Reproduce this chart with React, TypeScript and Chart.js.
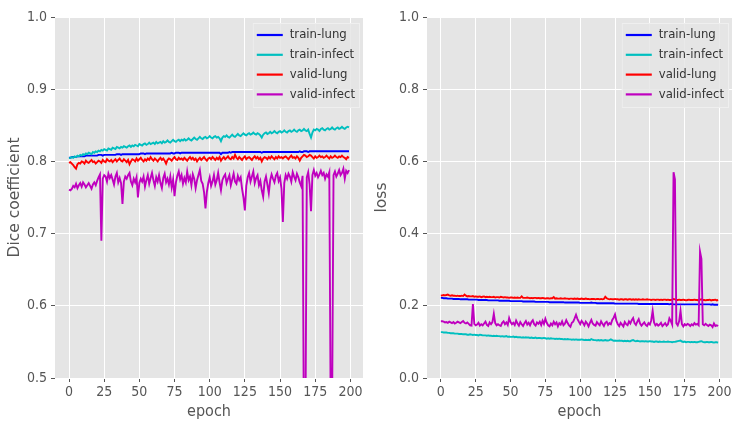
import React, { useEffect, useRef } from "react";
import { Chart, registerables } from "chart.js";

Chart.register(...registerables);

const epochs: number[] = Array.from({ length: 200 }, (_, i) => i);
const xTicks = [0, 25, 50, 75, 100, 125, 150, 175, 200];
const diceTicks = [0.5, 0.6, 0.7, 0.8, 0.9, 1.0];
const lossTicks = [0.0, 0.2, 0.4, 0.6, 0.8, 1.0];
const seriesNames = ["train-lung", "train-infect", "valid-lung", "valid-infect"];
const seriesColors = ["#0000FF", "#00BFBF", "#FF0000", "#BF00BF"];

const trainLungDice = [
  0.805,0.805,0.806,0.806,0.806,0.806,0.807,0.807,0.807,0.807,0.807,0.807,0.808,0.808,0.808,0.808,0.808,0.808,0.808,0.808,
  0.808,0.809,0.809,0.809,0.808,0.809,0.809,0.809,0.809,0.809,0.809,0.809,0.809,0.809,0.810,0.810,0.810,0.809,0.810,0.810,
  0.810,0.810,0.810,0.810,0.810,0.810,0.810,0.810,0.810,0.810,0.810,0.811,0.811,0.811,0.810,0.811,0.811,0.811,0.811,0.811,
  0.811,0.811,0.811,0.811,0.811,0.811,0.811,0.811,0.811,0.811,0.811,0.811,0.811,0.812,0.811,0.811,0.812,0.812,0.812,0.811,
  0.812,0.812,0.812,0.812,0.812,0.812,0.812,0.812,0.812,0.812,0.812,0.812,0.812,0.812,0.812,0.812,0.812,0.812,0.812,0.812,
  0.812,0.812,0.812,0.812,0.812,0.812,0.812,0.812,0.810,0.812,0.812,0.812,0.812,0.812,0.813,0.812,0.813,0.813,0.813,0.813,
  0.813,0.813,0.813,0.813,0.813,0.813,0.813,0.813,0.813,0.813,0.813,0.813,0.813,0.813,0.813,0.813,0.813,0.812,0.813,0.813,
  0.813,0.813,0.813,0.813,0.813,0.813,0.813,0.813,0.813,0.813,0.813,0.813,0.813,0.813,0.813,0.813,0.813,0.813,0.813,0.813,
  0.813,0.813,0.813,0.813,0.814,0.813,0.813,0.814,0.814,0.814,0.813,0.814,0.814,0.814,0.814,0.814,0.814,0.814,0.814,0.814,
  0.814,0.814,0.814,0.814,0.814,0.814,0.814,0.814,0.814,0.814,0.814,0.814,0.814,0.814,0.814,0.814,0.814,0.814,0.814,0.814,
];

const trainInfectDice = [
  0.804,0.805,0.806,0.805,0.807,0.806,0.808,0.807,0.809,0.808,0.810,0.809,0.811,0.810,0.812,0.811,0.810,0.813,0.812,0.814,
  0.813,0.815,0.814,0.816,0.815,0.817,0.816,0.815,0.818,0.817,0.816,0.819,0.818,0.817,0.820,0.819,0.818,0.820,0.819,0.821,
  0.820,0.819,0.821,0.822,0.820,0.822,0.821,0.823,0.822,0.821,0.824,0.823,0.822,0.824,0.825,0.823,0.824,0.826,0.824,0.825,
  0.826,0.824,0.827,0.825,0.826,0.827,0.825,0.828,0.826,0.827,0.829,0.827,0.826,0.828,0.830,0.828,0.827,0.829,0.830,0.828,
  0.830,0.829,0.831,0.829,0.830,0.832,0.830,0.829,0.831,0.833,0.831,0.830,0.832,0.834,0.832,0.831,0.833,0.834,0.832,0.833,
  0.835,0.833,0.832,0.834,0.835,0.833,0.834,0.832,0.828,0.833,0.835,0.834,0.836,0.834,0.833,0.835,0.837,0.835,0.834,0.836,
  0.838,0.836,0.835,0.837,0.839,0.837,0.836,0.838,0.839,0.837,0.838,0.840,0.838,0.837,0.839,0.838,0.836,0.833,0.837,0.839,
  0.840,0.838,0.839,0.841,0.839,0.840,0.842,0.840,0.839,0.841,0.842,0.840,0.841,0.843,0.841,0.840,0.842,0.843,0.841,0.842,
  0.844,0.842,0.841,0.843,0.844,0.842,0.843,0.845,0.843,0.842,0.844,0.838,0.833,0.840,0.844,0.843,0.845,0.844,0.842,0.845,
  0.846,0.844,0.843,0.845,0.846,0.844,0.845,0.847,0.845,0.844,0.846,0.847,0.845,0.846,0.848,0.846,0.845,0.847,0.848,0.847,
];

const validLungDice = [
  0.798,0.799,0.797,0.795,0.792,0.790,0.796,0.798,0.797,0.800,0.799,0.797,0.801,0.799,0.798,0.800,0.802,0.799,0.800,0.797,
  0.799,0.801,0.800,0.798,0.802,0.800,0.799,0.803,0.801,0.800,0.802,0.799,0.801,0.803,0.800,0.802,0.804,0.801,0.800,0.803,
  0.801,0.799,0.802,0.796,0.800,0.803,0.802,0.800,0.804,0.801,0.803,0.805,0.802,0.800,0.803,0.801,0.804,0.802,0.806,0.803,
  0.801,0.804,0.802,0.800,0.803,0.805,0.802,0.804,0.801,0.797,0.802,0.804,0.803,0.801,0.804,0.806,0.803,0.802,0.805,0.803,
  0.804,0.802,0.805,0.803,0.801,0.804,0.806,0.803,0.805,0.802,0.804,0.800,0.803,0.805,0.802,0.804,0.806,0.803,0.801,0.804,
  0.805,0.803,0.806,0.804,0.802,0.805,0.803,0.806,0.801,0.804,0.806,0.803,0.805,0.807,0.804,0.803,0.806,0.804,0.809,0.805,
  0.803,0.806,0.804,0.802,0.805,0.807,0.803,0.805,0.806,0.804,0.802,0.805,0.807,0.804,0.806,0.803,0.805,0.800,0.804,0.806,
  0.805,0.803,0.806,0.804,0.807,0.805,0.803,0.806,0.804,0.807,0.805,0.806,0.804,0.806,0.807,0.805,0.803,0.806,0.808,0.805,
  0.806,0.804,0.807,0.805,0.801,0.805,0.807,0.809,0.808,0.806,0.807,0.809,0.808,0.806,0.804,0.807,0.805,0.806,0.808,0.806,
  0.807,0.805,0.806,0.808,0.806,0.804,0.807,0.805,0.806,0.808,0.806,0.805,0.807,0.806,0.808,0.806,0.805,0.803,0.806,0.805,
];

const validInfectDice = [
  0.761,0.760,0.762,0.766,0.764,0.769,0.763,0.767,0.770,0.765,0.771,0.768,0.764,0.767,0.770,0.766,0.762,0.768,0.771,0.767,
  0.773,0.778,0.782,0.690,0.776,0.781,0.779,0.772,0.783,0.777,0.781,0.775,0.768,0.779,0.784,0.771,0.777,0.770,0.741,0.772,
  0.779,0.776,0.781,0.784,0.772,0.767,0.776,0.771,0.778,0.750,0.770,0.776,0.772,0.779,0.765,0.774,0.781,0.769,0.777,0.784,
  0.774,0.766,0.778,0.772,0.781,0.770,0.763,0.777,0.783,0.771,0.776,0.768,0.779,0.764,0.775,0.752,0.771,0.780,0.786,0.775,
  0.781,0.769,0.777,0.771,0.786,0.774,0.779,0.767,0.782,0.776,0.763,0.774,0.781,0.788,0.773,0.769,0.757,0.735,0.758,0.770,
  0.778,0.766,0.772,0.781,0.768,0.774,0.784,0.771,0.760,0.774,0.779,0.782,0.770,0.776,0.781,0.767,0.775,0.783,0.772,0.769,
  0.780,0.774,0.778,0.762,0.750,0.732,0.766,0.778,0.784,0.772,0.779,0.786,0.770,0.777,0.781,0.767,0.773,0.760,0.751,0.772,
  0.779,0.768,0.756,0.774,0.782,0.776,0.771,0.780,0.784,0.773,0.778,0.762,0.716,0.770,0.781,0.776,0.783,0.779,0.772,0.785,
  0.779,0.774,0.783,0.778,0.771,0.766,0.780,0.400,0.420,0.778,0.785,0.768,0.731,0.781,0.788,0.780,0.784,0.778,0.782,0.787,
  0.781,0.784,0.776,0.782,0.779,0.785,0.450,0.460,0.781,0.786,0.779,0.783,0.788,0.781,0.784,0.790,0.776,0.787,0.784,0.788,
];

const trainLungLoss = [
  0.222,0.222,0.221,0.221,0.221,0.220,0.220,0.220,0.220,0.219,0.219,0.219,0.219,0.219,0.218,0.218,0.218,0.218,0.218,0.218,
  0.217,0.217,0.217,0.217,0.217,0.217,0.217,0.216,0.216,0.216,0.216,0.216,0.216,0.216,0.215,0.215,0.215,0.215,0.215,0.215,
  0.215,0.215,0.214,0.214,0.214,0.214,0.214,0.214,0.214,0.214,0.213,0.213,0.213,0.213,0.213,0.213,0.213,0.213,0.213,0.212,
  0.212,0.212,0.212,0.212,0.212,0.212,0.212,0.212,0.211,0.211,0.211,0.211,0.211,0.211,0.211,0.211,0.211,0.211,0.210,0.210,
  0.210,0.210,0.210,0.210,0.210,0.210,0.210,0.210,0.210,0.209,0.209,0.209,0.209,0.209,0.209,0.209,0.209,0.209,0.209,0.209,
  0.208,0.208,0.208,0.208,0.208,0.208,0.208,0.208,0.209,0.208,0.208,0.208,0.207,0.207,0.207,0.207,0.207,0.207,0.207,0.207,
  0.207,0.207,0.207,0.207,0.207,0.206,0.206,0.206,0.206,0.206,0.206,0.206,0.206,0.206,0.206,0.206,0.206,0.206,0.206,0.206,
  0.206,0.206,0.205,0.205,0.205,0.205,0.205,0.205,0.205,0.205,0.205,0.205,0.205,0.205,0.205,0.205,0.205,0.205,0.205,0.205,
  0.205,0.205,0.205,0.205,0.204,0.205,0.205,0.204,0.204,0.204,0.204,0.204,0.204,0.204,0.204,0.204,0.204,0.204,0.204,0.204,
  0.204,0.204,0.204,0.204,0.204,0.204,0.204,0.204,0.204,0.204,0.204,0.204,0.204,0.204,0.203,0.204,0.203,0.203,0.203,0.203,
];

const trainInfectLoss = [
  0.127,0.127,0.126,0.126,0.126,0.125,0.125,0.124,0.124,0.124,0.123,0.123,0.123,0.122,0.122,0.122,0.121,0.121,0.121,0.120,
  0.120,0.121,0.120,0.119,0.120,0.119,0.119,0.118,0.120,0.119,0.118,0.118,0.118,0.117,0.118,0.117,0.117,0.116,0.117,0.116,
  0.117,0.116,0.116,0.115,0.116,0.115,0.115,0.116,0.114,0.115,0.114,0.114,0.115,0.113,0.114,0.113,0.113,0.113,0.112,0.113,
  0.112,0.113,0.112,0.112,0.111,0.112,0.111,0.111,0.112,0.110,0.111,0.111,0.110,0.110,0.111,0.110,0.109,0.110,0.109,0.110,
  0.109,0.109,0.108,0.109,0.108,0.109,0.108,0.108,0.107,0.108,0.107,0.108,0.107,0.107,0.106,0.107,0.106,0.107,0.106,0.106,
  0.106,0.107,0.106,0.105,0.106,0.105,0.106,0.105,0.108,0.106,0.105,0.105,0.104,0.105,0.104,0.105,0.104,0.104,0.105,0.104,
  0.104,0.105,0.107,0.105,0.103,0.104,0.103,0.103,0.104,0.103,0.103,0.102,0.103,0.102,0.103,0.102,0.102,0.104,0.105,0.103,
  0.102,0.103,0.102,0.101,0.102,0.102,0.101,0.102,0.101,0.101,0.102,0.101,0.101,0.100,0.101,0.101,0.100,0.101,0.100,0.100,
  0.101,0.100,0.100,0.101,0.100,0.100,0.099,0.100,0.100,0.101,0.102,0.103,0.104,0.101,0.100,0.101,0.099,0.100,0.100,0.099,
  0.100,0.099,0.100,0.099,0.099,0.100,0.101,0.102,0.100,0.099,0.099,0.100,0.099,0.099,0.100,0.099,0.098,0.099,0.099,0.098,
];

const validLungLoss = [
  0.228,0.229,0.230,0.229,0.230,0.231,0.229,0.228,0.229,0.228,0.228,0.227,0.228,0.227,0.227,0.228,0.227,0.231,0.228,0.226,
  0.227,0.226,0.226,0.227,0.225,0.226,0.225,0.225,0.226,0.224,0.225,0.226,0.224,0.225,0.224,0.225,0.224,0.224,0.225,0.223,
  0.224,0.224,0.223,0.225,0.224,0.223,0.224,0.223,0.223,0.222,0.223,0.223,0.222,0.223,0.222,0.223,0.222,0.222,0.226,0.222,
  0.222,0.222,0.223,0.222,0.221,0.222,0.221,0.222,0.222,0.221,0.222,0.221,0.221,0.222,0.221,0.220,0.221,0.221,0.220,0.221,
  0.221,0.224,0.220,0.221,0.220,0.220,0.221,0.220,0.220,0.221,0.220,0.220,0.219,0.220,0.220,0.219,0.220,0.219,0.220,0.219,
  0.219,0.220,0.219,0.219,0.220,0.219,0.219,0.218,0.219,0.219,0.219,0.218,0.219,0.219,0.218,0.219,0.218,0.219,0.225,0.221,
  0.219,0.218,0.219,0.218,0.218,0.219,0.218,0.218,0.217,0.218,0.218,0.217,0.218,0.218,0.217,0.218,0.218,0.217,0.218,0.217,
  0.218,0.217,0.218,0.217,0.217,0.218,0.217,0.217,0.218,0.217,0.217,0.216,0.217,0.217,0.216,0.217,0.217,0.216,0.217,0.216,
  0.217,0.217,0.216,0.217,0.216,0.216,0.217,0.219,0.218,0.216,0.216,0.217,0.216,0.216,0.217,0.216,0.215,0.216,0.217,0.216,
  0.216,0.216,0.217,0.216,0.216,0.215,0.217,0.218,0.216,0.216,0.215,0.216,0.216,0.217,0.215,0.216,0.216,0.217,0.215,0.216,
];

const validInfectLoss = [
  0.157,0.157,0.156,0.154,0.155,0.153,0.156,0.154,0.152,0.155,0.151,0.153,0.156,0.154,0.152,0.155,0.158,0.153,0.151,0.154,
  0.150,0.146,0.145,0.205,0.150,0.146,0.148,0.153,0.145,0.149,0.146,0.151,0.156,0.147,0.144,0.154,0.149,0.155,0.178,0.152,
  0.146,0.149,0.146,0.144,0.153,0.157,0.149,0.154,0.147,0.166,0.155,0.149,0.153,0.147,0.159,0.151,0.145,0.155,0.149,0.144,
  0.152,0.158,0.148,0.153,0.146,0.155,0.160,0.149,0.145,0.154,0.150,0.156,0.147,0.159,0.150,0.164,0.153,0.146,0.143,0.151,
  0.146,0.156,0.149,0.154,0.143,0.152,0.148,0.157,0.146,0.150,0.160,0.152,0.146,0.142,0.153,0.156,0.165,0.175,0.164,0.156,
  0.149,0.158,0.153,0.146,0.156,0.151,0.143,0.153,0.161,0.151,0.147,0.145,0.155,0.150,0.146,0.157,0.150,0.144,0.153,0.156,
  0.147,0.152,0.149,0.161,0.167,0.176,0.158,0.149,0.144,0.153,0.148,0.143,0.155,0.149,0.146,0.157,0.151,0.160,0.166,0.152,
  0.147,0.156,0.163,0.151,0.145,0.150,0.154,0.147,0.144,0.152,0.148,0.160,0.186,0.154,0.146,0.150,0.145,0.148,0.153,0.144,
  0.148,0.152,0.145,0.149,0.165,0.158,0.148,0.570,0.550,0.152,0.146,0.157,0.186,0.149,0.143,0.149,0.146,0.150,0.148,0.144,
  0.149,0.146,0.152,0.148,0.150,0.146,0.350,0.330,0.149,0.146,0.150,0.147,0.144,0.148,0.146,0.141,0.151,0.144,0.146,0.144,
];

const FONT = '"DejaVu Sans Condensed", "DejaVu Sans", sans-serif';

const bgPlugin = {
  id: "ggbg",
  beforeDraw(chart: any) {
    const { ctx, chartArea } = chart;
    ctx.save();
    ctx.fillStyle = "#E5E5E5";
    ctx.fillRect(chartArea.left, chartArea.top, chartArea.right - chartArea.left, chartArea.bottom - chartArea.top);
    ctx.restore();
  },
};

const legendPlugin = {
  id: "inlegend",
  afterDatasetsDraw(chart: any) {
    const { ctx, chartArea } = chart;
    const ds = chart.data.datasets;
    ctx.save();
    ctx.font = `13px ${FONT}`;
    let maxW = 0;
    ds.forEach((d: any) => { maxW = Math.max(maxW, ctx.measureText(d.label).width); });
    const w = 4 + 26 + 7 + maxW + 5;
    const h = 85;
    const x0 = chartArea.right - 3 - w;
    const y0 = chartArea.top + 6;
    ctx.fillStyle = "rgba(229,229,229,0.85)";
    ctx.fillRect(x0, y0, w, h);
    ctx.strokeStyle = "rgba(240,240,240,0.9)";
    ctx.lineWidth = 1;
    ctx.strokeRect(x0 + 0.5, y0 + 0.5, w - 1, h - 1);
    ds.forEach((d: any, i: number) => {
      const cy = y0 + 12 + i * 19.8;
      ctx.strokeStyle = d.borderColor;
      ctx.lineWidth = 2.2;
      ctx.beginPath();
      ctx.moveTo(x0 + 4, cy);
      ctx.lineTo(x0 + 30, cy);
      ctx.stroke();
      ctx.fillStyle = "#333333";
      ctx.textBaseline = "middle";
      ctx.textAlign = "left";
      ctx.fillText(d.label, x0 + 37, cy);
    });
    ctx.restore();
  },
};

function makeConfig(series: number[][], yMin: number, yMax: number, yTicks: number[], yTitle: string, padRight: number, yWidth: number) {
  return {
    type: "line",
    data: {
      datasets: series.map((arr, i) => ({
        label: seriesNames[i],
        data: epochs.map((e, j) => ({ x: e, y: arr[j] })),
        borderColor: seriesColors[i],
        backgroundColor: seriesColors[i],
        borderWidth: 1.9,
        pointRadius: 0,
        tension: 0,
        fill: false,
        clip: 0,
        order: series.length - i,
      })),
    },
    options: {
      animation: false,
      responsive: false,
      devicePixelRatio: 1,
      layout: { padding: { top: 17, right: padRight, left: 0, bottom: 0 } },
      plugins: { legend: { display: false }, tooltip: { enabled: false } },
      scales: {
        x: {
          type: "linear",
          min: -9.95,
          max: 208.95,
          afterBuildTicks: (s: any) => { s.ticks = xTicks.map((v) => ({ value: v })); },
          afterFit: (s: any) => { s.height = 43; },
          border: { display: false },
          grid: { color: "#FFFFFF", lineWidth: 1, drawTicks: true, tickLength: 4, tickColor: "#555555" },
          ticks: { color: "#555555", font: { family: FONT, size: 14 }, padding: 2, maxRotation: 0, autoSkip: false, callback: (v: any) => String(v) },
          title: { display: true, text: "epoch", color: "#555555", font: { family: FONT, size: 16 }, padding: { top: 0, bottom: 0 } },
        },
        y: {
          type: "linear",
          min: yMin,
          max: yMax,
          afterBuildTicks: (s: any) => { s.ticks = yTicks.map((v) => ({ value: v })); },
          afterFit: (s: any) => { s.width = yWidth; },
          border: { display: false },
          grid: { color: "#FFFFFF", lineWidth: 1, drawTicks: true, tickLength: 4, tickColor: "#555555" },
          ticks: { color: "#555555", font: { family: FONT, size: 14 }, padding: 4, callback: (v: any) => Number(v).toFixed(1) },
          title: { display: true, text: yTitle, color: "#555555", font: { family: '"DejaVu Sans", sans-serif', size: 15.5 }, padding: { top: 6, bottom: 0 } },
        },
      },
    },
    plugins: [bgPlugin, legendPlugin],
  };
}

function ChartCanvas({ config, left }: { config: any; left: number }) {
  const ref = useRef<HTMLCanvasElement | null>(null);
  useEffect(() => {
    if (!ref.current) return;
    const chart = new Chart(ref.current, config);
    return () => chart.destroy();
  }, []);
  return (
    <canvas
      ref={ref}
      width={367}
      height={421}
      style={{ position: "absolute", left, top: 0, width: 367, height: 421 }}
    />
  );
}

export default function App() {
  const diceCfg = makeConfig([trainLungDice, trainInfectDice, validLungDice, validInfectDice], 0.5, 1.0, diceTicks, "Dice coefficient", 4, 55);
  const lossCfg = makeConfig([trainLungLoss, trainInfectLoss, validLungLoss, validInfectLoss], 0.0, 1.0, lossTicks, "loss", 2, 60);
  return (
    <div style={{ position: "absolute", left: 0, top: 0, width: 734, height: 421, background: "#FFFFFF", overflow: "hidden" }}>
      <ChartCanvas config={diceCfg} left={0} />
      <ChartCanvas config={lossCfg} left={367} />
    </div>
  );
}
